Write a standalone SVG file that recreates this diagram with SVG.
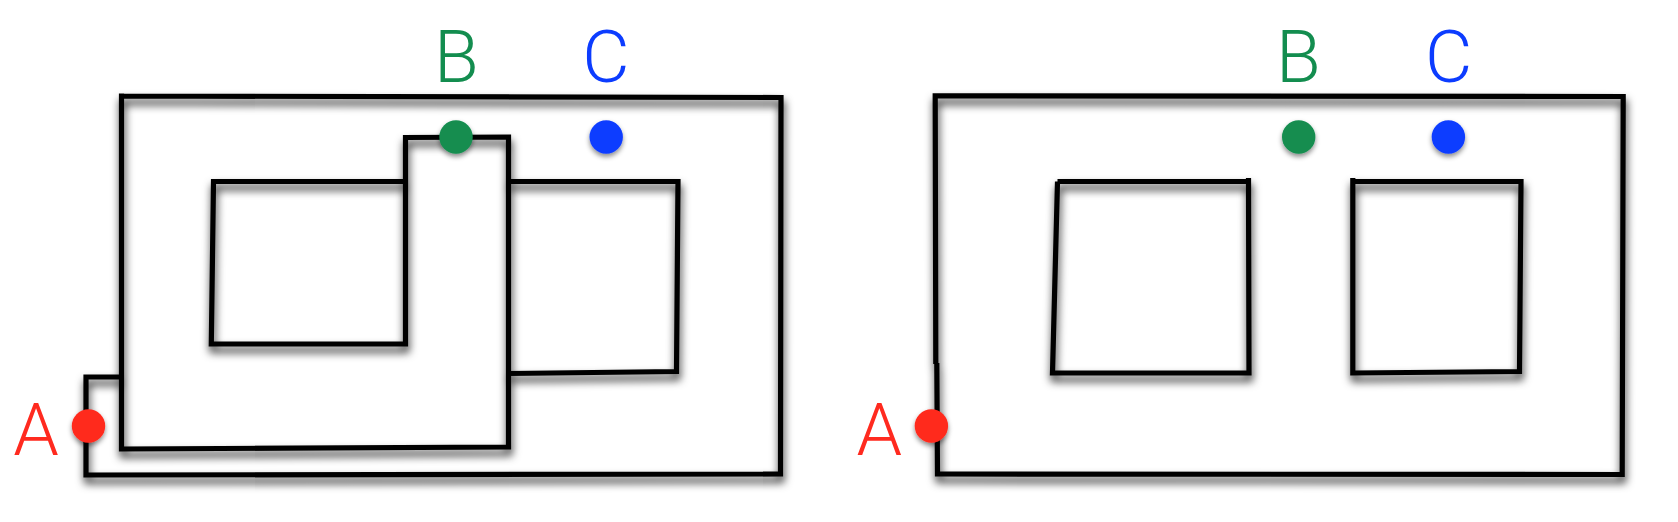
<svg xmlns="http://www.w3.org/2000/svg" width="1678" height="522" viewBox="0 0 1678 522">
<defs>
<filter id="sh" x="-10%" y="-10%" width="120%" height="130%">
<feDropShadow dx="1" dy="6" stdDeviation="4.5" flood-color="#000" flood-opacity="0.85"/>
</filter>
<filter id="shd" x="-50%" y="-50%" width="200%" height="220%">
<feDropShadow dx="0" dy="3" stdDeviation="2.5" flood-color="#000" flood-opacity="0.45"/>
</filter>
</defs>
<style>
.wall{fill:none;stroke:#000;stroke-width:5.2;stroke-linejoin:miter;stroke-linecap:butt;filter:url(#sh)}
.dot{filter:url(#shd)}
.lbl{font-family:Roboto,"Liberation Sans",sans-serif;font-weight:300;font-size:73px;text-anchor:middle}
</style>
<rect width="1678" height="522" fill="#fff"/>
<g id="left-figure">
<path class="wall" d="M121.5,96 L781,97.5 L780.5,474 L86,475 L86,377 L123.5,377 M121.5,93.4 L121.5,449 L508.5,447 L508.5,137 L405.5,137.5 L405.5,344 L211.3,344 L213.5,181.5 L408,181.5"/>
<path class="wall" d="M508.5,181.5 L678,181.5 L676.5,371.5 L508.5,373.5"/>
</g>
<g id="right-figure">
<path class="wall" d="M935.2,95.8 L1623.2,96.5 L1622.2,474.5 L937.5,474 L936.8,363 M935.2,93.2 L935.8,364"/>
<path class="wall" d="M1057.5,181.5 L1248.5,181.5 L1249,373 L1052.5,373 L1057.5,181.5 M1248.5,178 L1248.5,184"/>
<path class="wall" d="M1352.8,178 L1352.8,373 L1519.5,371.5 L1521,181.5 L1352.8,181.5"/>
</g>
<g id="node-A-left">
<circle class="dot" cx="88.5" cy="426" r="16.7" fill="#ff2a1f"/>
<text class="lbl" x="36" y="455" fill="#ff2a1f">A</text>
</g>
<g id="node-B-left">
<circle class="dot" cx="456" cy="137" r="16.7" fill="#138d4f"/>
<text class="lbl" x="456.5" y="81.7" fill="#138d4f">B</text>
</g>
<g id="node-C-left">
<circle class="dot" cx="606.2" cy="137" r="16.7" fill="#0c3cff"/>
<text class="lbl" x="606" y="81.7" fill="#0c3cff">C</text>
</g>
<g id="node-A-right">
<circle class="dot" cx="931.4" cy="426" r="16.7" fill="#ff2a1f"/>
<text class="lbl" x="879.3" y="455" fill="#ff2a1f">A</text>
</g>
<g id="node-B-right">
<circle class="dot" cx="1298.7" cy="137" r="16.7" fill="#138d4f"/>
<text class="lbl" x="1298.5" y="81.7" fill="#138d4f">B</text>
</g>
<g id="node-C-right">
<circle class="dot" cx="1448.4" cy="137" r="16.7" fill="#0c3cff"/>
<text class="lbl" x="1448.7" y="81.7" fill="#0c3cff">C</text>
</g>
<g id="connectors"/>
</svg>
